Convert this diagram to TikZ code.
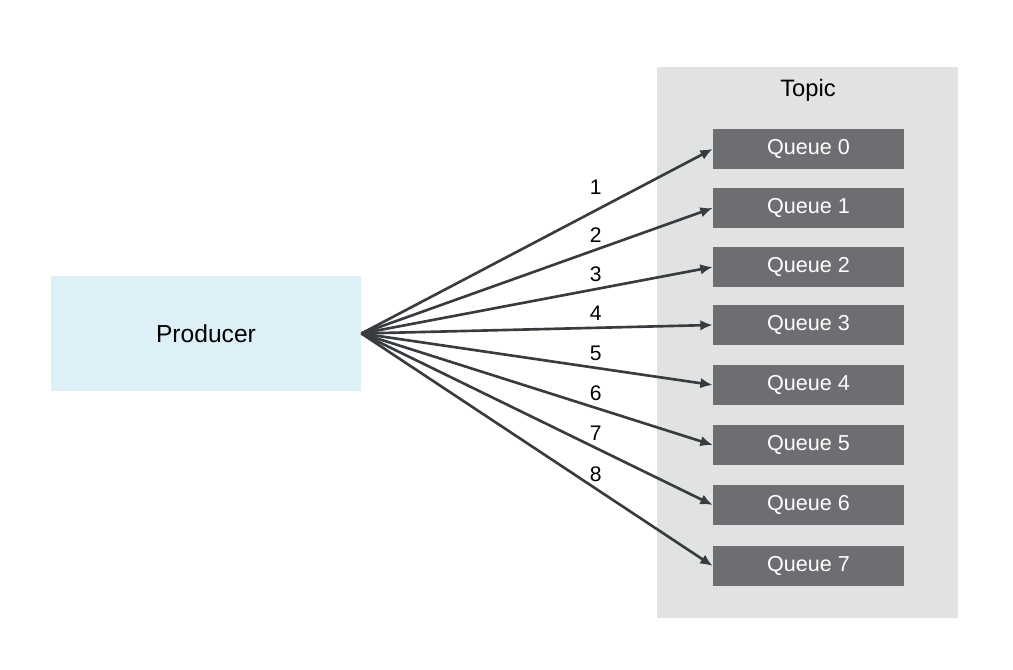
\documentclass[tikz,border=0pt]{standalone}
\usepackage{fontspec}
\setmainfont{Liberation Sans}
\usepackage{tikz}
\usetikzlibrary{arrows.meta}
\definecolor{producerblue}{HTML}{DDF0F7}
\definecolor{topicgray}{HTML}{E1E2E2}
\definecolor{queuegray}{HTML}{6D6E71}
\definecolor{arrowgray}{HTML}{383B3F}
\tikzset{prodbox/.style={fill=producerblue,minimum width=6.2cm,minimum height=2.3cm,inner sep=0pt,%
    font=\fontsize{14}{16}\selectfont}}
\tikzset{queuebox/.style={fill=queuegray,text=white,minimum width=3.82cm,minimum height=0.8cm,inner sep=0pt,%
    text height=0.6em,text depth=0em,font=\fontsize{12.3}{14}\selectfont}}
\tikzset{myptr/.style={draw=arrowgray,line width=1.5pt,-{Latex[length=7pt,width=6pt]}}}
\tikzset{numlbl/.style={pos=0.667,above,font=\fontsize{12}{14}\selectfont}}

\begin{document}
\begin{tikzpicture}

	  \useasboundingbox (0,0) rectangle (20.26,13.4);

	  \node [fill=topicgray,minimum width=6.02cm,minimum height=11.02cm,inner sep=0pt] (topic) at (16.15,6.55) {};
	  \node [font=\fontsize{13.5}{15}\selectfont] (topiclbl) at (16.16,11.6) {Topic};

	  \node [prodbox] (producer) at (4.12,6.73) {Producer};

	  \node [queuebox] (q0) at (16.17,10.42) {Queue 0};
	  \node [queuebox] (q1) at (16.17,9.24) {Queue 1};
	  \node [queuebox] (q2) at (16.17,8.06) {Queue 2};
	  \node [queuebox] (q3) at (16.17,6.90) {Queue 3};
	  \node [queuebox] (q4) at (16.17,5.70) {Queue 4};
	  \node [queuebox] (q5) at (16.17,4.50) {Queue 5};
	  \node [queuebox] (q6) at (16.17,3.30) {Queue 6};
	  \node [queuebox] (q7) at (16.17,2.08) {Queue 7};

	  \draw [myptr] (producer.east) -- node [numlbl,above=5pt] {1} (q0.west);
	  \draw [myptr] (producer.east) -- node [numlbl] {2} (q1.west);
	  \draw [myptr] (producer.east) -- node [numlbl] {3} (q2.west);
	  \draw [myptr] (producer.east) -- node [numlbl] {4} (q3.west);
	  \draw [myptr] (producer.east) -- node [numlbl] {5} (q4.west);
	  \draw [myptr] (producer.east) -- node [numlbl] {6} (q5.west);
	  \draw [myptr] (producer.east) -- node [numlbl] {7} (q6.west);
	  \draw [myptr] (producer.east) -- node [numlbl] {8} (q7.west);

\end{tikzpicture}
\end{document}
